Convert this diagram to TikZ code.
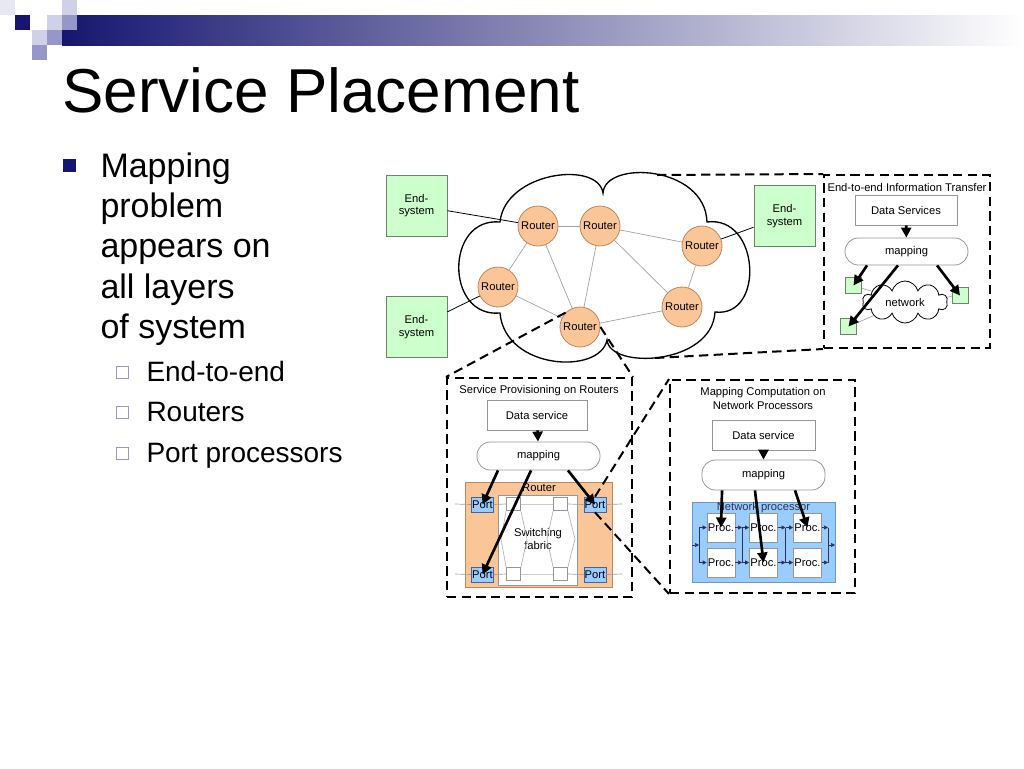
\documentclass[tikz,border=0pt]{standalone}
\usepackage{fontspec}
\setmainfont{Liberation Sans}
\usetikzlibrary{arrows.meta,shapes.symbols}

\definecolor{hdrnavy}{RGB}{22,22,112}
\definecolor{hdrlight}{RGB}{208,208,232}
\definecolor{hdrmid}{RGB}{150,150,200}
\definecolor{routerfill}{RGB}{250,198,152}
\definecolor{routerline}{RGB}{190,135,95}
\definecolor{esfill}{RGB}{204,255,204}
\definecolor{esline}{RGB}{110,130,110}
\definecolor{portfill}{RGB}{153,204,255}
\definecolor{portline}{RGB}{70,100,150}
\definecolor{npfill}{RGB}{153,204,255}
\definecolor{npline}{RGB}{110,150,210}
\definecolor{boxgray}{RGB}{150,150,150}
\definecolor{linkgray}{RGB}{160,160,160}
\definecolor{flowblue}{RGB}{40,50,90}

\tikzset{every picture/.style={line width=0.75pt}}
\tikzset{
  lbl/.style={font=\fontsize{8.4}{9.6}\selectfont},
  router/.style={circle, draw=routerline, fill=routerfill, line width=0.6pt, minimum size=30pt, inner sep=0pt, lbl},
  endsys/.style={rectangle, draw=esline, fill=esfill, line width=0.6pt, minimum width=45.75pt, minimum height=45.75pt, inner sep=0pt, align=center, lbl},
  link/.style={draw=linkgray, line width=0.5pt},
  dsbox/.style={rectangle, draw=boxgray, fill=white, line width=0.6pt, minimum height=22.5pt, inner sep=0pt, lbl},
  mappill/.style={rectangle, rounded corners=10pt, draw=boxgray, fill=white, line width=0.6pt, minimum width=92.25pt, minimum height=21pt, inner sep=0pt, lbl},
  bigarrow/.style={line width=2pt, -{Triangle[length=7.5pt,width=7.5pt]}},
  zoomline/.style={line width=1.5pt, dash pattern=on 7pt off 4pt},
  zoombox/.style={rectangle, draw, zoomline, inner sep=0pt},
  tinysq/.style={rectangle, draw=esline, fill=esfill, line width=0.5pt, minimum size=12pt, inner sep=0pt},
  port/.style={rectangle, draw=portline, fill=portfill, line width=0.5pt, minimum width=16.5pt, minimum height=11.25pt, inner sep=0pt, lbl},
  fabsq/.style={rectangle, draw=boxgray, fill=white, line width=0.5pt, minimum width=10.5pt, minimum height=9.5pt, inner sep=0pt},
  proc/.style={rectangle, draw=boxgray, fill=white, line width=0.5pt, minimum width=21pt, minimum height=21.75pt, inner sep=0pt, lbl},
  flow/.style={draw=flowblue, line width=0.5pt},
  flowarr/.style={flow, -{Triangle[length=3pt,width=3pt]}},
}

\begin{document}
\begin{tikzpicture}[x=0.75pt,y=0.75pt,yscale=-1,xscale=1]
\useasboundingbox (0,0) rectangle (1024,768);

% header bar and squares
\shade[left color=hdrnavy, right color=white] (62,15) rectangle (1024,45);
\fill[hdrlight!50] (0,0) rectangle (15,15);
\fill[hdrlight] (62,0) rectangle (77,15);
\fill[hdrnavy] (15,15) rectangle (30,30);
\fill[hdrlight] (47,15) rectangle (62,30);
\fill[hdrmid] (62,15) rectangle (77,30);
\fill[hdrlight] (32,30) rectangle (47,45);
\fill[hdrmid] (47,30) rectangle (62,45);
\fill[hdrmid] (32,45) rectangle (47,60);

% Title
\node[anchor=base west, inner sep=0pt, font=\fontsize{46.5}{50}\selectfont] (title) at (62,112) {Service Placement};

% bullets
\fill[hdrnavy] (63,159) rectangle (76,172);
\node[anchor=base west, inner sep=0pt, font=\fontsize{25.5}{30}\selectfont] (b1) at (100,177) {Mapping};
\node[anchor=base west, inner sep=0pt, font=\fontsize{25.5}{30}\selectfont] (b2) at (100,217) {problem};
\node[anchor=base west, inner sep=0pt, font=\fontsize{25.5}{30}\selectfont] (b3) at (100,257) {appears on};
\node[anchor=base west, inner sep=0pt, font=\fontsize{25.5}{30}\selectfont] (b4) at (100,298) {all layers};
\node[anchor=base west, inner sep=0pt, font=\fontsize{25.5}{30}\selectfont] (b5) at (100,338) {of system};
\draw[hdrmid] (116,366) rectangle (128,378);
\draw[hdrmid] (116,406) rectangle (128,418);
\draw[hdrmid] (116,447) rectangle (128,459);
\node[anchor=base west, inner sep=0pt, font=\fontsize{21}{25}\selectfont] (s1txt) at (146,381) {End-to-end};
\node[anchor=base west, inner sep=0pt, font=\fontsize{21}{25}\selectfont] (s2txt) at (146,421) {Routers};
\node[anchor=base west, inner sep=0pt, font=\fontsize{21}{25}\selectfont] (s3txt) at (146,462) {Port processors};

% Cloud
\draw[line width=1pt, fill=white] (500,222) .. controls (505,172) and (598,160) .. (603,193) .. controls (605,160) and (705,165) .. (707,222) .. controls (760,215) and (765,318) .. (715,312) .. controls (712,365) and (610,370) .. (607,340) .. controls (600,375) and (505,370) .. (500,313) .. controls (445,318) and (445,217) .. cycle;

% Routers
\node[router] (r1) at (538,226) {Router};
\node[router] (r2) at (600,226) {Router};
\node[router] (r3) at (702,246) {Router};
\node[router] (r4) at (498,287) {Router};
\node[router] (r5) at (682,307) {Router};
\node[router] (r6) at (580,327) {Router};
\draw[link] (r1) -- (r2);
\draw[link] (r1) -- (r4);
\draw[link] (r1) -- (r6);
\draw[link] (r2) -- (r6);
\draw[link] (r2) -- (r3);
\draw[link] (r2) -- (r5);
\draw[link] (r3) -- (r5);
\draw[link] (r4) -- (r6);
\draw[link] (r6) -- (r5);

% End-systems
\node[endsys] (es1) at (416.5,205.5) {End-\\system};
\node[endsys] (es2) at (416.5,327) {End-\\system};
\node[endsys] (es3) at (784.5,216) {End-\\system};
\draw[line width=0.6pt] (es1) -- (r1);
\draw[line width=0.6pt] (es2) -- (r4);
\draw[line width=0.6pt] (es3) -- (r3);

% End-to-end box
\coordinate (cltop) at (657,175);
\coordinate (clbot) at (655,358);
\node[zoombox, minimum width=124.5pt, minimum height=129.75pt] (eebox) at (907,261.5) {};
\draw[zoomline] (cltop) -- (eebox.north west);
\draw[zoomline] (clbot) -- (eebox.south west);
\node[lbl] (eetitle) at (907,187) {End-to-end Information Transfer};
\node[dsbox, minimum width=76.5pt] (eeds) at (906,210) {Data Services};
\node[mappill, minimum height=20.25pt] (eemap) at (906.5,251.5) {mapping};
\node[cloud, cloud puffs=10, aspect=2, draw, fill=white, line width=0.6pt, minimum width=63.75pt, minimum height=31.5pt, inner sep=0pt, lbl] (eenet) at (905,302) {network};
\node[tinysq] (sq1) at (853.5,285.5) {};
\node[tinysq] (sq2) at (960,295.5) {};
\node[tinysq] (sq3) at (848.5,326.5) {};
\draw[link] (sq1) -- (eenet);
\draw[link] (sq2) -- (eenet);
\draw[link] (sq3) -- (eenet);
\draw[bigarrow] (eeds) -- (eemap);
\draw[bigarrow] ([xshift=-29.6pt]eemap.south) -- (sq1.center);
\draw[bigarrow] ([xshift=-6.4pt]eemap.south) -- (sq3.center);
\draw[bigarrow] ([xshift=22.9pt]eemap.south) -- (sq2.center);

% Service provisioning box
\node[zoombox, minimum width=138.75pt, minimum height=164.25pt] (spbox) at (539.5,487.5) {};
\draw[zoomline] (r6.north west) -- (spbox.north west);
\draw[zoomline] (r6.east) -- (spbox.north east);
\node[lbl] (sptitle) at (539,391) {Service Provisioning on Routers};
\node[dsbox, minimum width=75pt] (spds) at (537,415) {Data service};
\node[mappill] (spmap) at (538.5,456) {mapping};
\draw[fill=routerfill, draw=routerline, line width=0.5pt] (465,482) rectangle (612,587);
\node[lbl] (rtlabel) at (539,488) {Router};
\draw[fill=white, draw=boxgray, line width=0.5pt] (498,495) rectangle (577,585);
\node[lbl, align=center] (fabric) at (538,539) {Switching\\fabric};
\node[fabsq] (f1) at (513.5,504) {};
\node[fabsq] (f2) at (560.5,504) {};
\node[fabsq] (f3) at (513.5,574) {};
\node[fabsq] (f4) at (560.5,574) {};
\node[port] (p1) at (482.5,504.5) {Port};
\node[port] (p2) at (595,504.5) {Port};
\node[port] (p3) at (482.5,574.5) {Port};
\node[port] (p4) at (595,574.5) {Port};
% fabric links
\draw[link] (455,504) -- (p1.west);
\draw[link] (p1.east) -- (f1.west);
\draw[link, gray!40] (f1.east) -- (f2.west);
\draw[link] (f2.east) -- (p2.west);
\draw[link] (p2.east) -- (622,504);
\draw[link] (455,574) -- (p3.west);
\draw[link] (p3.east) -- (f3.west);
\draw[link, gray!40] (f3.east) -- (f4.west);
\draw[link] (f4.east) -- (p4.west);
\draw[link] (p4.east) -- (622,574);
\draw[link, gray!60] (f1.south west) -- (501,539) -- (f3.north west);
\draw[link, gray!60] (f1.south east) -- (527,539) -- (f3.north east);
\draw[link, gray!60] (f2.south west) -- (547,539) -- (f4.north west);
\draw[link, gray!60] (f2.south east) -- (575,539) -- (f4.north east);
\draw[bigarrow] (spds) -- (spmap);
\draw[bigarrow] ([xshift=-30.4pt]spmap.south) -- (p1.center);
\draw[bigarrow] ([xshift=-5.6pt]spmap.south) -- (p3.center);
\draw[bigarrow] ([xshift=22.1pt]spmap.south) -- (p2.center);

% Mapping computation box
\node[zoombox, minimum width=138.75pt, minimum height=159.75pt] (mcbox) at (762.5,486.5) {};
\draw[zoomline] (p2.north) -- (mcbox.north west);
\draw[zoomline] (p2.south) -- (mcbox.south west);
\node[align=center, font=\fontsize{8.4}{10.5}\selectfont] (mctitle) at (763,398) {Mapping Computation on\\Network Processors};
\node[dsbox, minimum width=77.25pt] (mcds) at (763.5,435) {Data service};
\node[mappill, minimum height=22.5pt] (mcmap) at (763.5,475) {mapping};
\draw[fill=npfill, draw=npline, line width=0.5pt] (692,502) rectangle (835,582);
\node[lbl, text=flowblue] (nplabel) at (763.5,508) {Network processor};
\node[proc] (pr11) at (721,527.5) {Proc.};
\node[proc] (pr12) at (763.5,527.5) {Proc.};
\node[proc] (pr13) at (807.5,527.5) {Proc.};
\node[proc] (pr21) at (721,562.5) {Proc.};
\node[proc] (pr22) at (763.5,562.5) {Proc.};
\node[proc] (pr23) at (807.5,562.5) {Proc.};
% processor flow
\coordinate (npin) at (692,545);
\coordinate (npout) at (835,545);
\draw[flowarr] (npin) -- (699,545);
\draw[flow] (699,527.5) -- (699,562.5);
\draw[flowarr] (699,527.5) -- (pr11.west);
\draw[flowarr] (699,562.5) -- (pr21.west);
\draw[flowarr] (pr11.east) -- (742,527.5);
\draw[flowarr] (pr21.east) -- (742,562.5);
\draw[flow] (742,527.5) -- (742,562.5);
\draw[flowarr] (742,527.5) -- (pr12.west);
\draw[flowarr] (742,562.5) -- (pr22.west);
\draw[flowarr] (pr12.east) -- (785.5,527.5);
\draw[flowarr] (pr22.east) -- (785.5,562.5);
\draw[flow] (785.5,527.5) -- (785.5,562.5);
\draw[flowarr] (785.5,527.5) -- (pr13.west);
\draw[flowarr] (785.5,562.5) -- (pr23.west);
\draw[flowarr] (pr13.east) -- (828,527.5);
\draw[flowarr] (pr23.east) -- (828,562.5);
\draw[flow] (828,527.5) -- (828,562.5);
\draw[flowarr] (828,545) -- (npout);
\draw[bigarrow] (mcds) -- (mcmap);
\draw[bigarrow] ([xshift=-31.1pt]mcmap.south) -- (pr11.center);
\draw[bigarrow] ([xshift=-6.4pt]mcmap.south) -- (pr22.center);
\draw[bigarrow] ([xshift=23.6pt]mcmap.south) -- (pr13.center);

\end{tikzpicture}
\end{document}
